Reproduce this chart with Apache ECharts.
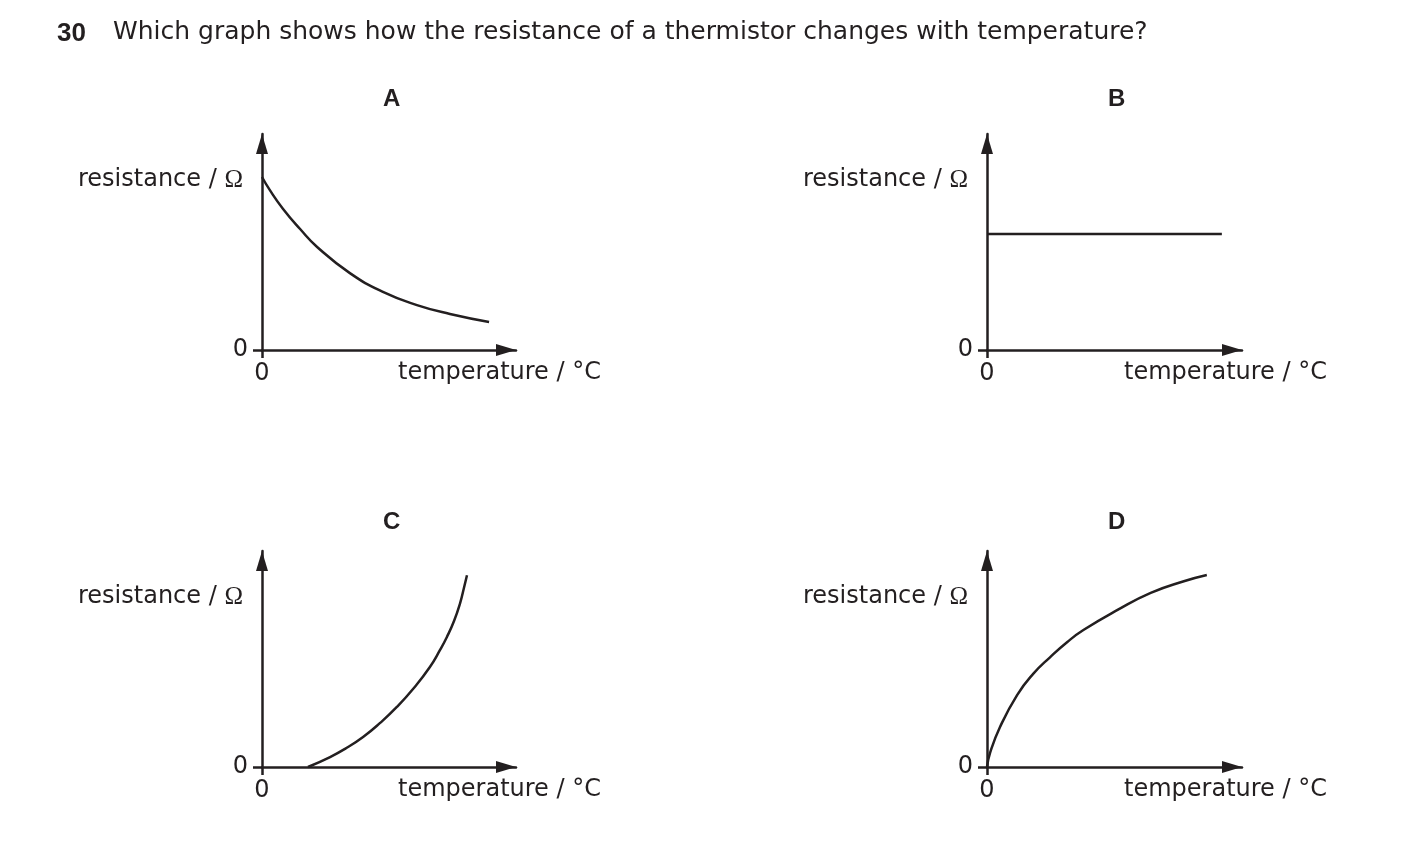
<!DOCTYPE html>
<html>
<head>
<meta charset="utf-8">
<script src="https://cdn.jsdelivr.net/npm/echarts@6/dist/echarts.min.js"></script>
<style>
html,body{margin:0;padding:0;background:#fff;}
#chart{width:1403px;height:861px;}
</style>
</head>
<body>
<div id="chart"></div>
<script>
// ---- data ----
const questionNumber = '30';
const questionText = 'Which graph shows how the resistance of a thermistor changes with temperature?';
const panelLetters = ['A', 'B', 'C', 'D'];
const yAxisName = 'resistance / {s|Ω}';
const xAxisName = 'temperature / °C';
const originTicks = [0];

// curves in arbitrary units (x axis 0..10, y axis 0..10)
const curveA = [[0, 8.01], [0.31, 7.40], [0.83, 6.53], [1.50, 5.60], [2.17, 4.77], [3.46, 3.56], [4.76, 2.69], [6.10, 2.08], [7.40, 1.67], [8.94, 1.30]];
const curveB = [[0, 5.37], [9.21, 5.37]];
const curveC = [[1.81, 0], [2.68, 0.46], [3.27, 0.84], [3.98, 1.39], [4.65, 2.04], [5.31, 2.78], [5.98, 3.66], [6.61, 4.63], [7.01, 5.42], [7.28, 6.02], [7.56, 6.76], [7.80, 7.59], [7.95, 8.29], [8.07, 8.88]];
const curveD = [[0, 0], [0.12, 0.65], [0.51, 1.85], [1.18, 3.33], [1.81, 4.31], [2.48, 5.09], [3.15, 5.79], [3.78, 6.34], [5.12, 7.27], [6.42, 8.06], [7.72, 8.60], [8.62, 8.89]];
const curves = [curveA, curveB, curveC, curveD];

// ---- layout ----
const INK = '#231f20';
const FONT = '"DejaVu Sans", "Liberation Sans", sans-serif';
const BOLD_FONT = '"Liberation Sans", Arial, sans-serif';
const gridPos = [
  {left: 262, top: 134, width: 254, height: 216},
  {left: 987, top: 134, width: 255, height: 216},
  {left: 262, top: 551, width: 254, height: 216},
  {left: 987, top: 551, width: 255, height: 216}
];
const letterPos = [[383, 87], [1108, 87], [383, 510], [1108, 510]];

const axisLineStyle = {color: INK, width: 2.5};

const option = {
  backgroundColor: '#fff',
  animation: false,
  textStyle: {fontFamily: FONT, color: INK},
  title: [
    {text: questionNumber, left: 57, top: 21, padding: 0,
     textStyle: {fontFamily: BOLD_FONT, fontSize: 26, fontWeight: 'bold', color: INK}},
    {text: questionText, left: 113, top: 20, padding: 0,
     textStyle: {fontFamily: FONT, fontSize: 25, fontWeight: 'normal', color: INK}}
  ].concat(panelLetters.map((l, i) => ({
    text: l, left: letterPos[i][0], top: letterPos[i][1], padding: 0,
    textStyle: {fontFamily: BOLD_FONT, fontSize: 24, fontWeight: 'bold', color: INK}
  }))),
  grid: gridPos.map(g => Object.assign({containLabel: false, outerBoundsMode: 'none'}, g)),
  xAxis: gridPos.map((g, i) => ({
    gridIndex: i, type: 'value', min: 0, max: 10, interval: 10,
    splitLine: {show: false},
    axisLine: {show: true, onZero: false, symbol: ['none', 'triangle'], symbolSize: [12, 20], symbolOffset: [0, -10], lineStyle: axisLineStyle},
    axisTick: {show: true, customValues: originTicks, length: 8, lineStyle: axisLineStyle},
    axisLabel: {show: true, customValues: originTicks, margin: 12, fontSize: 24, color: INK, fontFamily: FONT},
    name: xAxisName, nameLocation: 'end', nameGap: -118,
    nameTextStyle: {fontSize: 24, color: INK, fontFamily: FONT, align: 'left', verticalAlign: 'top', padding: [11, 0, 0, 0]}
  })),
  yAxis: gridPos.map((g, i) => ({
    gridIndex: i, type: 'value', min: 0, max: 10, interval: 10,
    splitLine: {show: false},
    axisLine: {show: true, onZero: false, symbol: ['none', 'triangle'], symbolSize: [12, 20], symbolOffset: [0, -10], lineStyle: axisLineStyle},
    axisTick: {show: true, customValues: originTicks, length: 9, lineStyle: axisLineStyle},
    axisLabel: {show: true, customValues: originTicks, margin: 14, fontSize: 24, color: INK, fontFamily: FONT},
    name: yAxisName, nameLocation: 'end', nameGap: -46,
    nameTextStyle: {fontSize: 24, color: INK, fontFamily: FONT, align: 'right', verticalAlign: 'middle', padding: [0, 19, 0, 0],
      rich: {s: {fontSize: 25, fontFamily: '"Liberation Serif", "DejaVu Serif", serif', color: INK}}}
  })),
  series: curves.map((c, i) => ({
    type: 'line', xAxisIndex: i, yAxisIndex: i, data: c,
    smooth: 0.5, showSymbol: false, symbol: 'none',
    lineStyle: {color: INK, width: 2.5}, silent: true
  }))
};

const chart = echarts.init(document.getElementById('chart'), null, {renderer: 'canvas'});
chart.setOption(option);
</script>
</body>
</html>
